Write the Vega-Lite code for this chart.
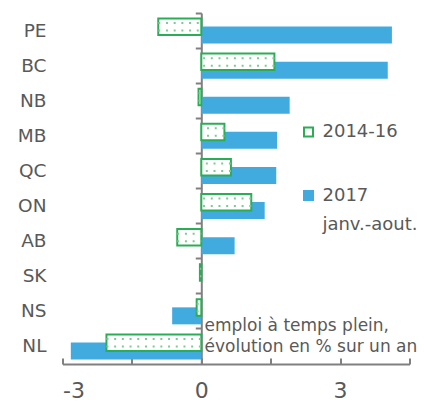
{
  "$schema": "https://vega.github.io/schema/vega-lite/v6.json",
  "width": 347,
  "height": 351,
  "autosize": {"type": "none"},
  "padding": {"left": 62.5, "top": 13, "right": 14.5, "bottom": 42},
  "config": {
    "view": {"stroke": null},
    "font": "DejaVu Sans",
    "axis": {"grid": false}
  },
  "data": {
    "values": [
      {"prov": "PE", "series": "2017", "value": 4.12},
      {"prov": "BC", "series": "2017", "value": 4.03},
      {"prov": "NB", "series": "2017", "value": 1.91},
      {"prov": "MB", "series": "2017", "value": 1.64},
      {"prov": "QC", "series": "2017", "value": 1.62},
      {"prov": "ON", "series": "2017", "value": 1.37},
      {"prov": "AB", "series": "2017", "value": 0.72},
      {"prov": "SK", "series": "2017", "value": 0.0},
      {"prov": "NS", "series": "2017", "value": -0.63},
      {"prov": "NL", "series": "2017", "value": -2.82},
      {"prov": "PE", "series": "2014-16", "value": -0.93},
      {"prov": "BC", "series": "2014-16", "value": 1.58},
      {"prov": "NB", "series": "2014-16", "value": -0.06},
      {"prov": "MB", "series": "2014-16", "value": 0.5},
      {"prov": "QC", "series": "2014-16", "value": 0.64},
      {"prov": "ON", "series": "2014-16", "value": 1.08},
      {"prov": "AB", "series": "2014-16", "value": -0.52},
      {"prov": "SK", "series": "2014-16", "value": -0.03},
      {"prov": "NS", "series": "2014-16", "value": -0.1},
      {"prov": "NL", "series": "2014-16", "value": -2.05}
    ]
  },
  "encoding": {
    "y": {
      "field": "prov",
      "type": "nominal",
      "sort": ["PE", "BC", "NB", "MB", "QC", "ON", "AB", "SK", "NS", "NL"],
      "scale": {"paddingInner": 0, "paddingOuter": 0},
      "axis": {
        "orient": "left",
        "offset": -138.8,
        "bandPosition": 0,
        "domainColor": "#808080",
        "domainWidth": 2,
        "tickColor": "#808080",
        "tickWidth": 2,
        "tickSize": 6,
        "labelFontSize": 18.5,
        "labelColor": "#595959",
        "labelPadding": 149.3,
        "labelBaseline": "middle",
        "title": null
      }
    },
    "x": {
      "field": "value",
      "type": "quantitative",
      "scale": {"domain": [-3, 4.5], "nice": false, "zero": false},
      "axis": {
        "values": [-3, -1.5, 0, 1.5, 3, 4.5],
        "labelExpr": "datum.value == -3 ? '-3' : datum.value == 0 ? '0' : datum.value == 3 ? '3' : ''",
        "domainColor": "#808080",
        "domainWidth": 2,
        "tickColor": "#808080",
        "tickWidth": 2,
        "tickSize": -6,
        "labelFontSize": 22,
        "labelColor": "#595959",
        "labelPadding": 22,
        "title": ["emploi à temps plein,", "évolution en % sur un an"],
        "titleX": 141.5,
        "titleY": -34,
        "titleAlign": "left",
        "titleBaseline": "alphabetic",
        "titleFontSize": 17,
        "titleFontWeight": "normal",
        "titleColor": "#595959",
        "titleLineHeight": 21
      }
    }
  },
  "layer": [
    {
      "transform": [{"filter": "datum.series == '2017'"}],
      "mark": {"type": "bar", "size": 17, "yOffset": 4.5, "strokeWidth": 0},
      "encoding": {
        "fill": {
          "field": "series", "type": "nominal",
          "scale": {"domain": ["2014-16", "2017"], "range": ["#ffffff", "#41ABE0"]},
          "title": "\u200b\u00a0\u00a0\u00a0\u00a0janv.-aout.",
          "legend": {
            "orient": "none", "legendX": 237, "legendY": 110,
            "symbolType": "square", "symbolSize": 81, "symbolStrokeWidth": 2,
            "labelFontSize": 18, "labelColor": "#595959", "labelOffset": 5,
            "rowPadding": 45.5, "titleOrient": "bottom", "titleAnchor": "start",
            "titleFontSize": 18, "titleFontWeight": "normal", "titleColor": "#595959",
            "titlePadding": 11, "padding": 0, "labelLimit": 0, "titleLimit": 0
          }
        },
        "stroke": {
          "field": "series", "type": "nominal",
          "scale": {"domain": ["2014-16", "2017"], "range": ["#2AAE55", "#41ABE0"]},
          "title": "\u200b\u00a0\u00a0\u00a0\u00a0janv.-aout.",
          "legend": {
            "orient": "none", "legendX": 237, "legendY": 110,
            "symbolType": "square", "symbolSize": 81, "symbolStrokeWidth": 2,
            "labelFontSize": 18, "labelColor": "#595959", "labelOffset": 5,
            "rowPadding": 45.5, "titleOrient": "bottom", "titleAnchor": "start",
            "titleFontSize": 18, "titleFontWeight": "normal", "titleColor": "#595959",
            "titlePadding": 11, "padding": 0, "labelLimit": 0, "titleLimit": 0
          }
        }
      }
    },
    {
      "transform": [{"filter": "datum.series == '2014-16'"}],
      "mark": {"type": "bar", "size": 16.5, "yOffset": -3.8, "strokeWidth": 2},
      "encoding": {
        "fill": {"field": "series", "type": "nominal", "title": "\u200b\u00a0\u00a0\u00a0\u00a0janv.-aout."},
        "stroke": {"field": "series", "type": "nominal", "title": "\u200b\u00a0\u00a0\u00a0\u00a0janv.-aout."}
      }
    },
    {
      "transform": [{"filter": "datum.series == '2014-16'"}],
      "mark": {"type": "rule", "color": "#7CCB94", "strokeWidth": 2, "strokeDash": [2, 5.7], "yOffset": -7.5},
      "encoding": {"x2": {"datum": 0}}
    },
    {
      "transform": [{"filter": "datum.series == '2014-16'"}],
      "mark": {"type": "rule", "color": "#7CCB94", "strokeWidth": 2, "strokeDash": [2, 5.7], "yOffset": 0},
      "encoding": {"x2": {"datum": 0}}
    }
  ]
}
